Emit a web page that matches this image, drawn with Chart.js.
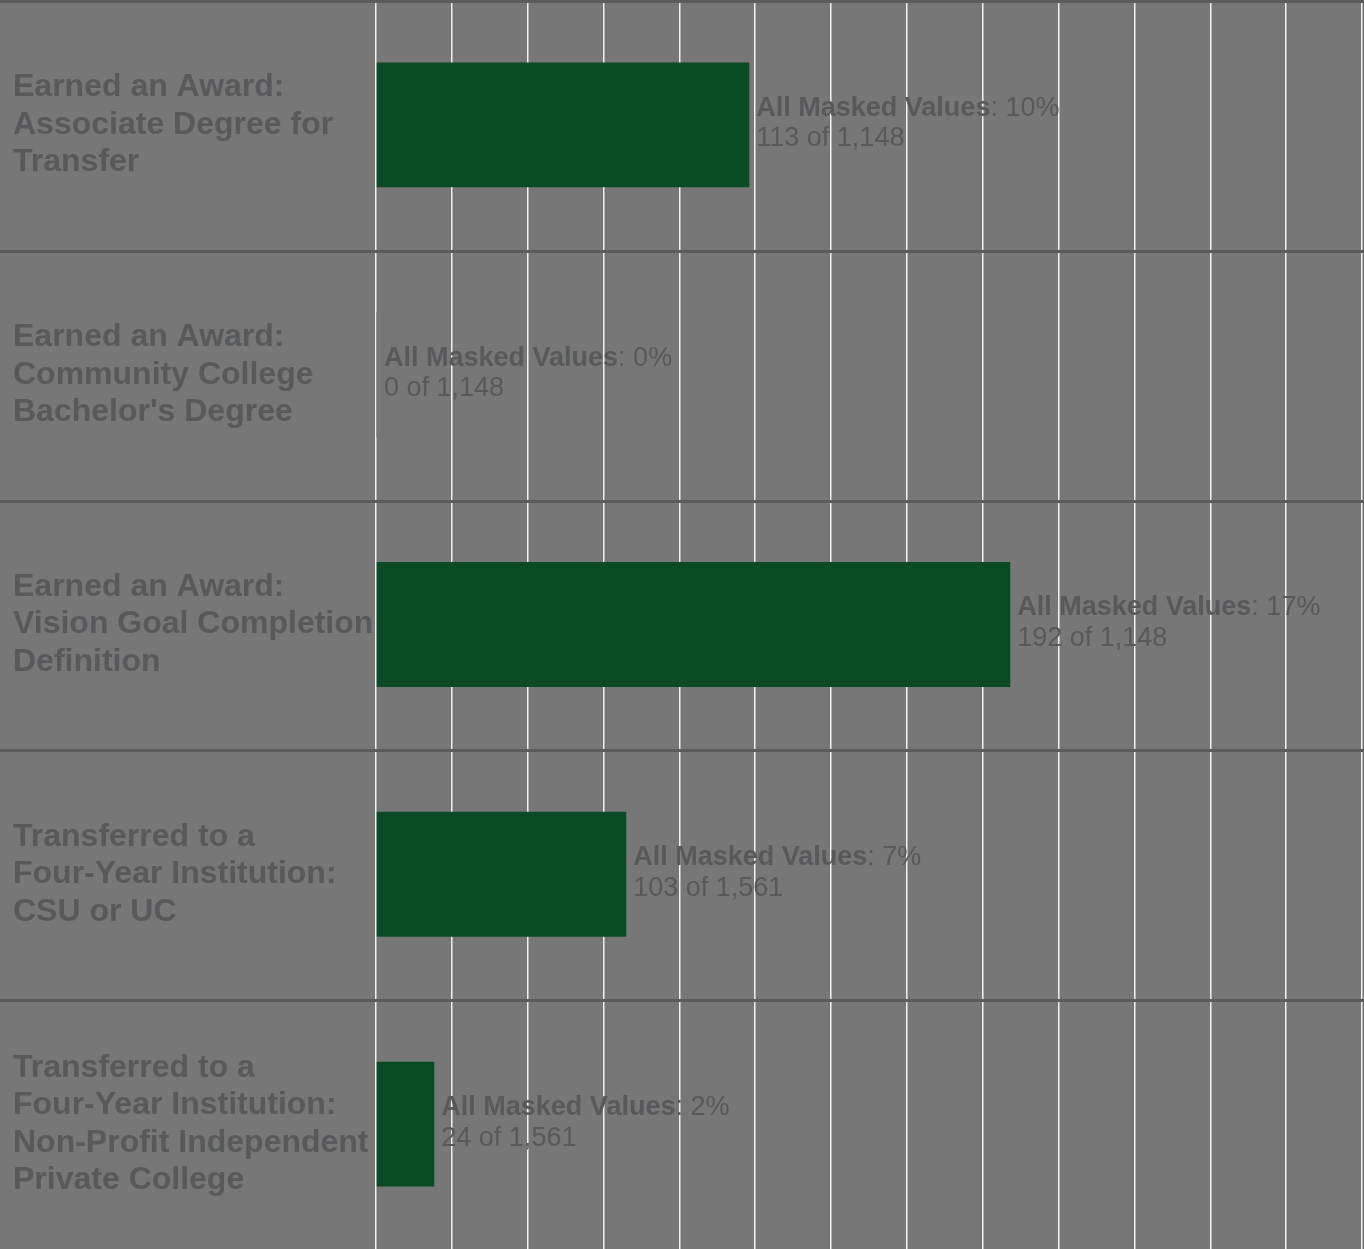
<!DOCTYPE html>
<html>
<head>
<meta charset="utf-8">
<script src="https://cdn.jsdelivr.net/npm/chart.js@4.4.1/dist/chart.umd.min.js"></script>
<style>
  html, body { margin: 0; padding: 0; background: #777777; }
  #wrap { width: 1364px; height: 1249px; }
</style>
</head>
<body>
<div id="wrap"><canvas id="outcomeChart" width="1364" height="1249"></canvas></div>
<script>
// Chart data
const categories = [
    ['Earned an Award:', 'Associate Degree for', 'Transfer'],
    ['Earned an Award:', 'Community College', "Bachelor's Degree"],
    ['Earned an Award:', 'Vision Goal Completion', 'Definition'],
    ['Transferred to a', 'Four-Year Institution:', 'CSU or UC'],
    ['Transferred to a', 'Four-Year Institution:', 'Non-Profit Independent', 'Private College']
];
const counts = [113, 0, 192, 103, 24];
const totals = [1148, 1148, 1148, 1561, 1561];
const percentLabels = ['10%', '0%', '17%', '7%', '2%'];
const seriesName = 'All Masked Values';
const percents = counts.map((c, i) => c / totals[i] * 100);

const textColor = '#58595b';
const fontFamily = '"Liberation Sans", Arial, sans-serif';

// Draws the dark separators between rows, across the whole width
const separatorPlugin = {
    id: 'separators',
    afterDatasetsDraw(chart) {
        const ctx = chart.ctx;
        const y = chart.scales.y;
        const half = (y.getPixelForValue(1) - y.getPixelForValue(0)) / 2;
        ctx.save();
        ctx.strokeStyle = '#5b5b5b';
        ctx.lineWidth = 3;
        for (let i = 0; i < categories.length; i++) {
            const py = Math.round(y.getPixelForValue(i) - half) + 1.5;
            ctx.beginPath();
            ctx.moveTo(0, py);
            ctx.lineTo(chart.width, py);
            ctx.stroke();
        }
        ctx.restore();
    }
};

// Value labels next to each bar
const valueLabelPlugin = {
    id: 'valueLabels',
    afterDatasetsDraw(chart) {
        const ctx = chart.ctx;
        const meta = chart.getDatasetMeta(0);
        ctx.save();
        ctx.fillStyle = textColor;
        ctx.textBaseline = 'middle';
        ctx.textAlign = 'left';
        meta.data.forEach((bar, i) => {
            const x = bar.x + 7;
            const yc = bar.y;
            ctx.font = 'bold 27px ' + fontFamily;
            ctx.fillText(seriesName, x, yc - 16.5);
            const w = ctx.measureText(seriesName).width;
            ctx.font = '27px ' + fontFamily;
            ctx.fillText(': ' + percentLabels[i], x + w, yc - 16.5);
            ctx.fillText(counts[i].toLocaleString('en-US') + ' of ' + totals[i].toLocaleString('en-US'), x, yc + 14);
        });
        ctx.restore();
    }
};

const ctx = document.getElementById('outcomeChart').getContext('2d');
new Chart(ctx, {
    type: 'bar',
    data: {
        labels: categories,
        datasets: [{
            label: seriesName,
            data: percents,
            backgroundColor: '#0a4a25',
            borderWidth: 0,
            minBarLength: 1,
            barPercentage: 0.5,
            categoryPercentage: 1.0
        }]
    },
    options: {
        indexAxis: 'y',
        responsive: false,
        animation: false,
        layout: {
            padding: { left: 13, right: 2, top: 0, bottom: 0 }
        },
        plugins: {
            legend: { display: false },
            tooltip: { enabled: false }
        },
        scales: {
            x: {
                min: 0,
                max: 26,
                ticks: { stepSize: 2, display: false },
                grid: {
                    color: 'rgba(255,255,255,0.9)',
                    lineWidth: 1.5,
                    drawTicks: false
                },
                border: { display: false }
            },
            y: {
                afterFit(scale) {
                    scale.width = 363;
                    scale.paddingTop = 0;
                    scale.paddingBottom = 0;
                },
                ticks: {
                    crossAlign: 'far',
                    color: textColor,
                    padding: 0,
                    font: { family: fontFamily, size: 32, weight: 'bold', lineHeight: 1.17 }
                },
                grid: { display: false, drawTicks: false },
                border: { display: false }
            }
        }
    },
    plugins: [separatorPlugin, valueLabelPlugin]
});
</script>
</body>
</html>
